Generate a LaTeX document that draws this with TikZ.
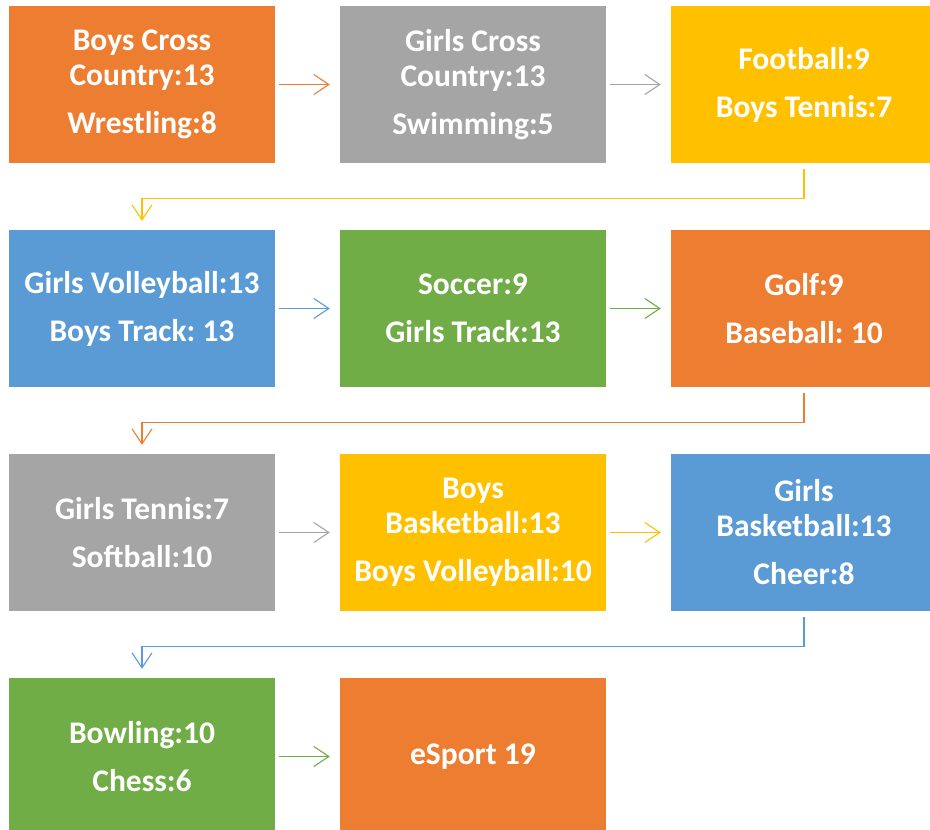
\documentclass[tikz,border=0pt]{standalone}
\usepackage{fontspec}
\setmainfont{Carlito}
\usetikzlibrary{arrows.meta}
\definecolor{cOr}{HTML}{ED7D31}
\definecolor{cGr}{HTML}{A5A5A5}
\definecolor{cGo}{HTML}{FFC000}
\definecolor{cBl}{HTML}{5B9BD5}
\definecolor{cGn}{HTML}{70AD47}
\frenchspacing
\tikzset{
  box/.style={fill=#1, draw=none, minimum width=266pt, minimum height=157pt, inner sep=0pt,
    align=center, text=white, font=\bfseries\fontsize{31.5}{35}\selectfont\frenchspacing},
  arr/.style={draw=#1, line width=1.1pt, -{Straight Barb[length=15pt,width=20pt,line width=1.1pt]}},
  harr/.style={arr=#1, shorten <=4pt, shorten >=10pt},
  earr/.style={arr=#1, shorten <=6pt, shorten >=9pt, rounded corners=0pt}
}
\begin{document}
\begin{tikzpicture}[x=1pt,y=-1pt]
\useasboundingbox (0,0) rectangle (930,830);
\clip (0,0) rectangle (930,830);
\node[box=cOr] (b1) at (142,84.5) {Boys Cross\\Country:13\\[13pt]Wrestling:8};
\node[box=cGr] (b2) at (473,84.5) {Girls Cross\\Country:13\\[13pt]Swimming:5};
\node[box=cGo] (b3) at (804,84.5) {Football:9\\[13pt]Boys Tennis:7};
\node[box=cBl] (b4) at (142,308.5) {Girls Volleyball:13\\[13pt]Boys Track: 13};
\node[box=cGn] (b5) at (473,308.5) {Soccer:9\\[13pt]Girls Track:13};
\node[box=cOr] (b6) at (804,308.5) {Golf:9\\[13pt]Baseball: 10};
\node[box=cGr] (b7) at (142,532.5) {Girls Tennis:7\\[13pt]Softball:10};
\node[box=cGo] (b8) at (473,532.5) {Boys\\Basketball:13\\[13pt]Boys Volleyball:10};
\node[box=cBl] (b9) at (804,532.5) {Girls\\Basketball:13\\[13pt]Cheer:8};
\node[box=cGn] (b10) at (142,756.5) {Bowling:10\\[13pt]Chess:6};
\node[box=cOr] (b11) at (473,756.5) {eSport 19};
\draw[harr=cOr] (b1) -- (b2);
\draw[harr=cGr] (b2) -- (b3);
\draw[earr=cGo] (b3.south) -- ++(0,35) -| (b4.north);
\draw[harr=cBl] (b4) -- (b5);
\draw[harr=cGn] (b5) -- (b6);
\draw[earr=cOr] (b6.south) -- ++(0,35) -| (b7.north);
\draw[harr=cGr] (b7) -- (b8);
\draw[harr=cGo] (b8) -- (b9);
\draw[earr=cBl] (b9.south) -- ++(0,35) -| (b10.north);
\draw[harr=cGn] (b10) -- (b11);
\end{tikzpicture}
\end{document}
